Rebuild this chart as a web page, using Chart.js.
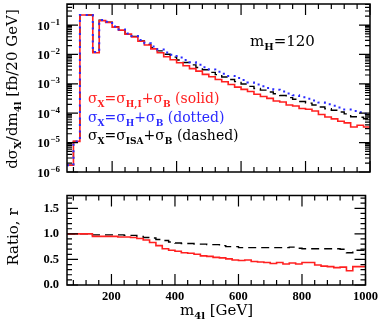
<!DOCTYPE html>
<html>
<head>
<meta charset="utf-8">
<script src="https://cdn.jsdelivr.net/npm/chart.js@4"></script>
<style>
body { margin: 0; background: #fff; }
#wrap { position: relative; width: 382px; height: 323px; overflow: hidden; font-family: 'DejaVu Serif', serif; }
canvas { position: absolute; left: 0; }
.t { position: absolute; white-space: nowrap; font-size: 15px; line-height: 18.5px; }
.lg { font-size: 14px; }
.s { font-size: 10px; font-weight: bold; position: relative; top: 4px; }
.lg .s { font-size: 9px; }
.rot { transform: translate(-50%, -50%) rotate(-90deg); }
</style>
</head>
<body>
<div id="wrap">
  <canvas id="top" width="382" height="180" style="top:0"></canvas>
  <canvas id="bot" width="382" height="143" style="top:180px"></canvas>

  <div class="t rot" style="left:13px;top:89px">dσ<span class="s">X</span>/dm<span class="s">4l</span> [fb/20 GeV]</div>
  <div class="t rot" style="left:13px;top:237px">Ratio, r</div>
  <div class="t" style="left:180px;top:300.5px">m<span class="s">4l</span> [GeV]</div>
  <div class="t" style="left:250px;top:32px">m<span class="s">H</span>=120</div>

  <div class="t lg" style="left:88px;top:89px;color:#ff2020">σ<span class="s">X</span>=σ<span class="s">H,I</span>+σ<span class="s">B</span> (solid)</div>
  <div class="t lg" style="left:88px;top:107.5px;color:#2a2aff">σ<span class="s">X</span>=σ<span class="s">H</span>+σ<span class="s">B</span> (dotted)</div>
  <div class="t lg" style="left:88px;top:126px;color:#000">σ<span class="s">X</span>=σ<span class="s">ISA</span>+σ<span class="s">B</span> (dashed)</div>
</div>

<script>
// lower bin edges, 20 GeV bins
var binLow = [60, 80, 100, 120, 140, 160, 180, 200, 220, 240, 260, 280, 300, 320, 340, 360,
  380, 400, 420, 440, 460, 480, 500, 520, 540, 560, 580, 600, 620, 640, 660, 680, 700,
  720, 740, 760, 780, 800, 820, 840, 860, 880, 900, 920, 940, 960, 980];
var binTop = 1000;

// sigma_H + sigma_B (blue, dotted)
var sigH = [1.7e-6, 1.1e-5, 0.22, 0.22, 0.012, 0.148, 0.129, 0.089, 0.071, 0.052, 0.042,
  0.031, 0.024, 0.0186, 0.0148, 0.0117, 0.0097, 0.0079, 0.0065, 0.0054, 0.0045, 0.0037,
  0.0031, 0.0026, 0.0022, 0.00186, 0.00158, 0.00135, 0.00112, 0.00095, 0.00083, 0.00072,
  0.00063, 0.00055, 0.00047, 0.00041, 0.00035, 0.00031, 0.00027, 0.00023, 0.0002,
  0.000178, 0.000155, 0.000135, 0.00012, 0.000107, 0.000095];

// sigma_H,I + sigma_B (red, solid)
var sigHI = [1.7e-6, 1.1e-5, 0.22, 0.22, 0.0114, 0.141, 0.123, 0.085, 0.067, 0.049, 0.039,
  0.028, 0.021, 0.0154, 0.0114, 0.0083, 0.0066, 0.0052, 0.0041, 0.0033, 0.0027, 0.0021,
  0.00174, 0.0014, 0.00117, 0.00095, 0.00077, 0.00065, 0.00055, 0.00044, 0.00037, 0.00032,
  0.00026, 0.00024, 0.00019, 0.000176, 0.000144, 0.000136, 0.000119, 0.00009, 0.000074,
  0.000064, 0.000053, 0.000047, 0.000034, 0.000039, 0.000034];

// sigma_ISA + sigma_B (black, dashed)
var sigISA = [1.7e-6, 1.1e-5, 0.22, 0.22, 0.0118, 0.145, 0.126, 0.087, 0.070, 0.050, 0.041,
  0.029, 0.022, 0.0171, 0.0132, 0.0102, 0.0081, 0.0065, 0.0053, 0.0044, 0.0036, 0.0030,
  0.00245, 0.00205, 0.0017, 0.0014, 0.00119, 0.00099, 0.00082, 0.00069, 0.00061, 0.00053,
  0.00046, 0.0004, 0.00034, 0.0003, 0.00025, 0.00022, 0.00019, 0.000163, 0.000142,
  0.000126, 0.00011, 0.000095, 0.000076, 0.000073, 0.000065];

// ratio panel
var ratioHI = [1.0, 1.0, 1.0, 1.0, 0.95, 0.95, 0.95, 0.95, 0.94, 0.94, 0.93, 0.91, 0.88,
  0.83, 0.77, 0.71, 0.68, 0.66, 0.63, 0.62, 0.60, 0.57, 0.56, 0.54, 0.53, 0.51, 0.49, 0.48,
  0.49, 0.46, 0.45, 0.44, 0.42, 0.44, 0.41, 0.43, 0.41, 0.44, 0.44, 0.39, 0.37, 0.36, 0.34,
  0.35, 0.28, 0.36, 0.36];
var ratioISA = [1.0, 1.0, 1.0, 1.0, 0.98, 0.98, 0.98, 0.98, 0.98, 0.97, 0.97, 0.95, 0.93,
  0.92, 0.89, 0.87, 0.84, 0.82, 0.81, 0.81, 0.80, 0.80, 0.79, 0.79, 0.77, 0.75, 0.75, 0.73,
  0.73, 0.73, 0.73, 0.73, 0.73, 0.73, 0.73, 0.74, 0.72, 0.71, 0.71, 0.71, 0.71, 0.71, 0.71,
  0.70, 0.63, 0.68, 0.68];

var xTicks = [200, 400, 600, 800, 1000];
var logTicks = [1e-6, 1e-5, 1e-4, 1e-3, 1e-2, 1e-1];
var ratioTicks = [0, 0.5, 1.0, 1.5];

// step points: value of each bin from its lower edge, closed at binTop
function pts(vals) {
  var p = binLow.map(function (x, i) { return { x: x, y: vals[i] }; });
  p.push({ x: binTop, y: vals[vals.length - 1] });
  return p;
}

// minor tick positions
var xMinor = [];
for (var m = 80; m < 1000; m += 40) if (m % 200) xMinor.push(m);
var logMinor = [];
for (var d = -6; d <= -1; d++) for (var k = 2; k <= 9; k++) if (k * Math.pow(10, d) < 0.52) logMinor.push(k * Math.pow(10, d));
var ratioMinor = [];
for (var r = 1; r <= 17; r++) if (r % 5) ratioMinor.push(r / 10);

// frame with inward ticks on all four sides
var frame = {
  id: 'frame',
  afterDatasetsDraw: function (chart, args, o) {
    var ctx = chart.ctx, a = chart.chartArea;
    var xs = chart.scales.x, ys = chart.scales.y;
    ctx.save();
    ctx.strokeStyle = '#000';
    ctx.lineWidth = 1.2;
    ctx.beginPath();
    function tx(v, len) {
      var p = xs.getPixelForValue(v);
      ctx.moveTo(p, a.bottom); ctx.lineTo(p, a.bottom - len);
      ctx.moveTo(p, a.top); ctx.lineTo(p, a.top + len);
    }
    function ty(v, len) {
      var p = ys.getPixelForValue(v);
      ctx.moveTo(a.left, p); ctx.lineTo(a.left + len, p);
      ctx.moveTo(a.right, p); ctx.lineTo(a.right - len, p);
    }
    o.xMajor.forEach(function (v) { tx(v, 11); });
    o.xMinor.forEach(function (v) { tx(v, 5); });
    o.yMajor.forEach(function (v) { ty(v, 11); });
    o.yMinor.forEach(function (v) { ty(v, 5); });
    ctx.stroke();
    ctx.lineWidth = 1.5;
    ctx.strokeRect(a.left, a.top, a.right - a.left, a.bottom - a.top);
    ctx.restore();
  }
};

// "10" with a raised exponent for the log axis
var powLabels = {
  id: 'powLabels',
  afterDraw: function (chart, args, o) {
    if (!o.ticks) return;
    var ctx = chart.ctx, ys = chart.scales.y;
    ctx.save();
    ctx.fillStyle = '#000';
    ctx.textBaseline = 'alphabetic';
    o.ticks.forEach(function (v) {
      var y = ys.getPixelForValue(v);
      var e = '\u2212' + String(-Math.round(Math.log10(v)));
      ctx.font = 'bold 9px "Liberation Serif"';
      var we = ctx.measureText(e).width;
      ctx.font = 'bold 12.5px "Liberation Serif"';
      var wb = ctx.measureText('10').width;
      var x0 = o.right - we - wb - 0.5;
      ctx.fillText('10', x0, y + 4.5);
      ctx.font = 'bold 9px "Liberation Serif"';
      ctx.fillText(e, x0 + wb + 0.5, y - 0.5);
    });
    ctx.restore();
  }
};

var tickFont = { family: 'Liberation Serif', weight: 'bold', size: 12.5 };

new Chart(document.getElementById('top'), {
  type: 'line',
  data: {
    datasets: [
      { data: pts(sigH), borderColor: '#2a2aff', borderWidth: 2, borderDash: [2, 4.5], stepped: true, pointRadius: 0 },
      { data: pts(sigHI), borderColor: '#ff2020', borderWidth: 1.6, stepped: true, pointRadius: 0 },
      { data: pts(sigISA), borderColor: '#000', borderWidth: 1.4, borderDash: [8, 5], stepped: true, pointRadius: 0 }
    ]
  },
  options: {
    responsive: false,
    animation: false,
    devicePixelRatio: 1,
    layout: { padding: { top: 4, right: 12, left: 0, bottom: 0 } },
    plugins: {
      legend: { display: false },
      tooltip: { enabled: false },
      frame: { xMajor: xTicks, xMinor: xMinor, yMajor: logTicks, yMinor: logMinor },
      powLabels: { ticks: logTicks, right: 60 }
    },
    scales: {
      x: {
        type: 'linear', min: 60, max: 1000,
        grid: { display: false, drawTicks: false }, border: { display: false },
        ticks: { display: false },
        afterFit: function (s) { s.height = 8; }
      },
      y: {
        type: 'logarithmic', min: 1e-6, max: 0.52,
        grid: { display: false, drawTicks: false }, border: { display: false },
        afterBuildTicks: function (s) { s.ticks = logTicks.map(function (v) { return { value: v }; }); },
        ticks: { display: false },
        afterFit: function (s) { s.width = 67; }
      }
    }
  },
  plugins: [frame, powLabels]
});

new Chart(document.getElementById('bot'), {
  type: 'line',
  data: {
    datasets: [
      { data: pts(ratioHI), borderColor: '#ff2020', borderWidth: 1.6, stepped: true, pointRadius: 0 },
      { data: pts(ratioISA), borderColor: '#000', borderWidth: 1.4, borderDash: [8, 5], stepped: true, pointRadius: 0 }
    ]
  },
  options: {
    responsive: false,
    animation: false,
    devicePixelRatio: 1,
    layout: { padding: { top: 12, right: 12, left: 0, bottom: 0 } },
    plugins: {
      legend: { display: false },
      tooltip: { enabled: false },
      frame: { xMajor: xTicks, xMinor: xMinor, yMajor: ratioTicks, yMinor: ratioMinor }
    },
    scales: {
      x: {
        type: 'linear', min: 60, max: 1000,
        grid: { display: false, drawTicks: false }, border: { display: false },
        afterBuildTicks: function (s) { s.ticks = xTicks.map(function (v) { return { value: v }; }); },
        ticks: { callback: function (v) { return String(v); }, font: tickFont, color: '#000', padding: 4, maxRotation: 0, autoSkip: false },
        afterFit: function (s) { s.height = 38; }
      },
      y: {
        type: 'linear', min: 0, max: 1.75,
        grid: { display: false, drawTicks: false }, border: { display: false },
        afterBuildTicks: function (s) { s.ticks = ratioTicks.map(function (v) { return { value: v }; }); },
        ticks: { callback: function (v) { return v.toFixed(1); }, font: tickFont, color: '#000', padding: 8 },
        afterFit: function (s) { s.width = 67; }
      }
    }
  },
  plugins: [frame]
});
</script>
</body>
</html>
